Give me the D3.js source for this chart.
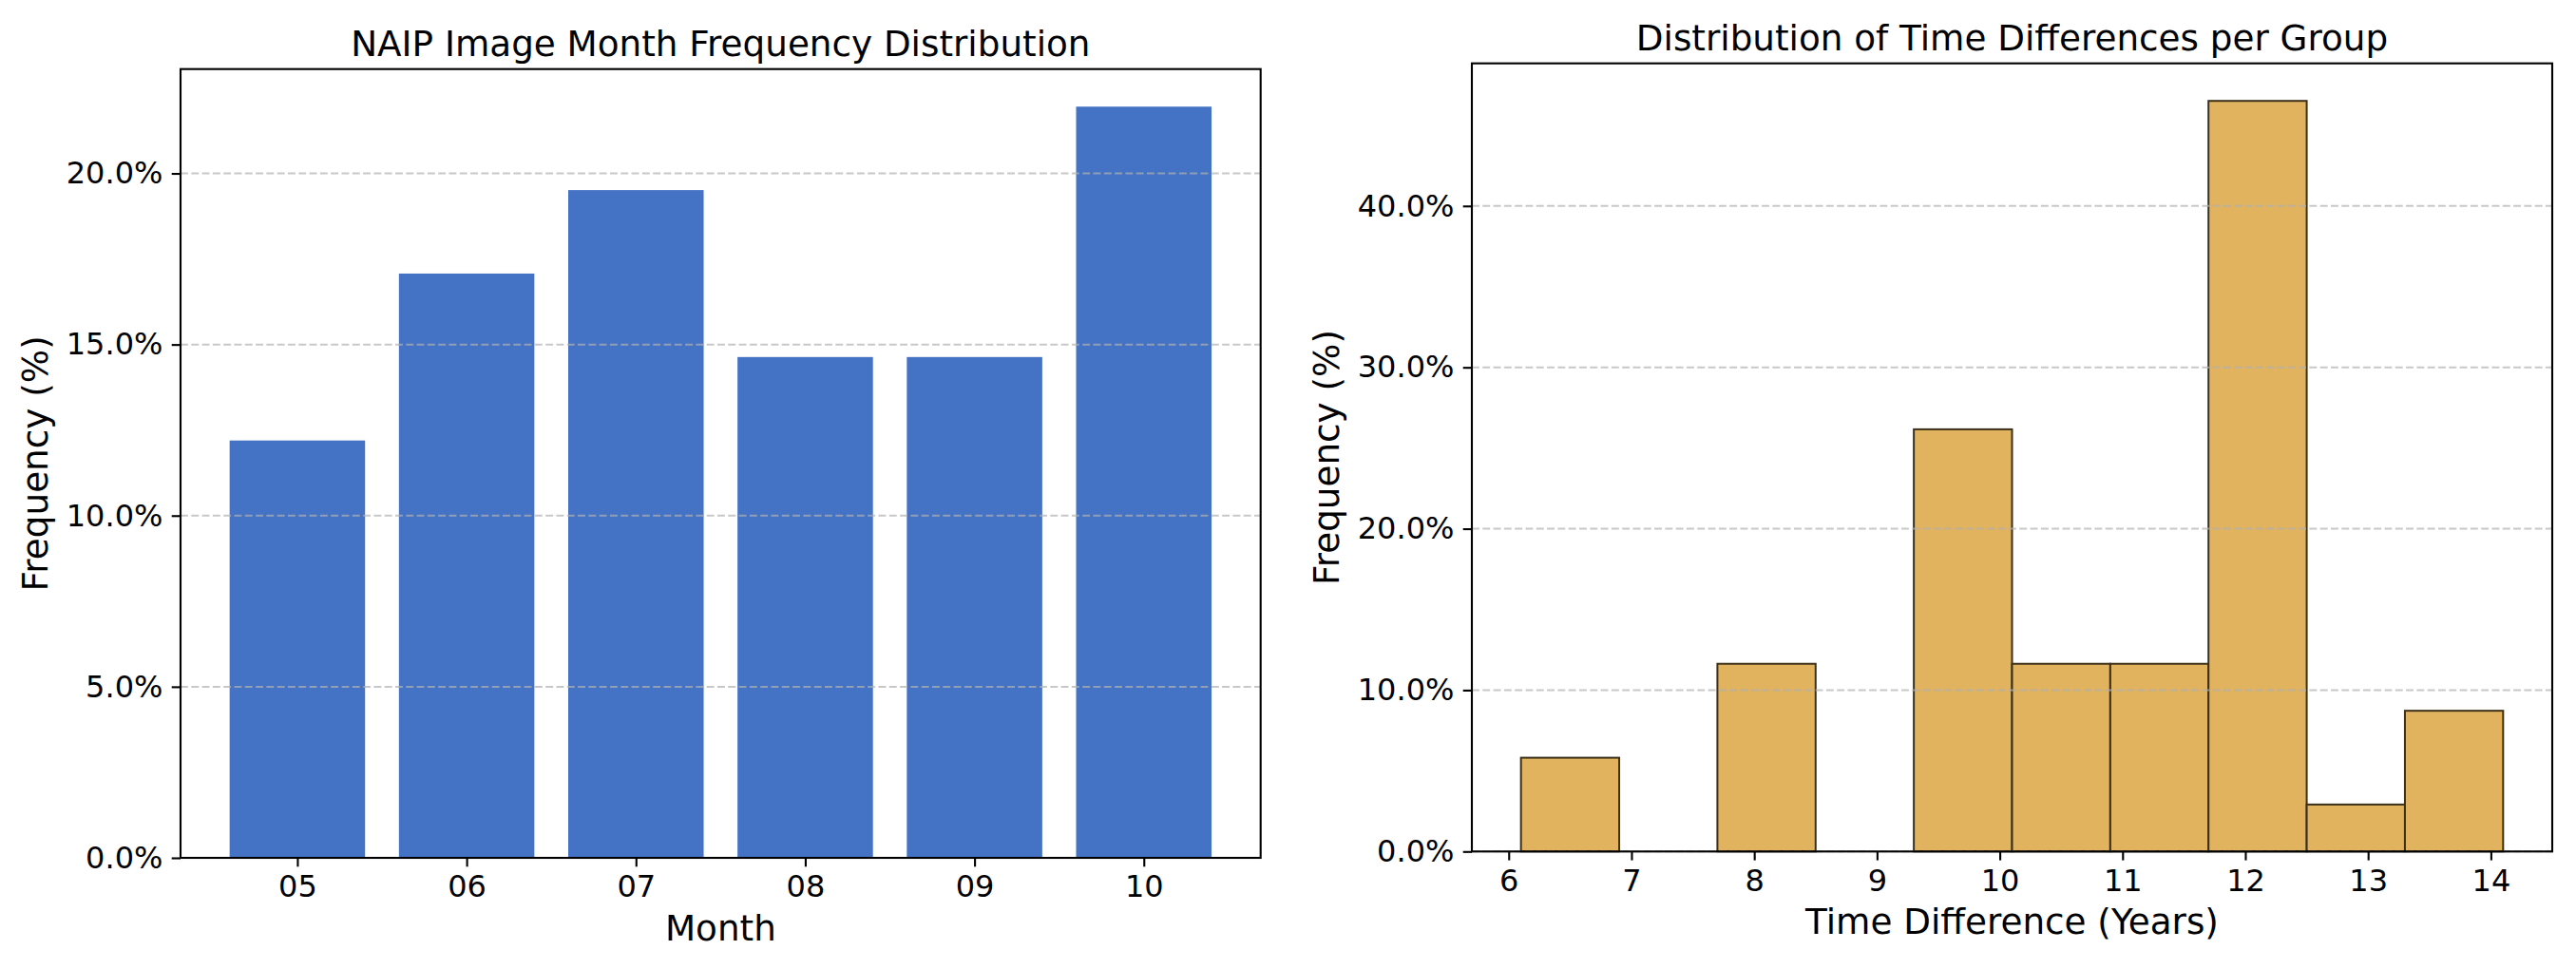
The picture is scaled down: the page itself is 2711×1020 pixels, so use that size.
<!DOCTYPE html>
<html>
<head>
<meta charset="utf-8">
<script src="https://cdn.jsdelivr.net/npm/d3@7"></script>
<style>
  body { margin: 0; background: #fff; }
  svg { display: block; font-family: "DejaVu Sans", sans-serif; }
</style>
</head>
<body>
<svg id="chart" width="2711" height="1020"></svg>
<script>
// left panel: month frequency
const months = ['05', '06', '07', '08', '09', '10']
const monthFreq = [12.195, 17.073, 19.512, 14.634, 14.634, 21.951]

// right panel: histogram of time differences (bin edges + percent per bin)
const binEdges = [6.1, 6.9, 7.7, 8.5, 9.3, 10.1, 10.9, 11.7, 12.5, 13.3, 14.1]
const binFreq = [5.81, 0, 11.63, 0, 26.16, 11.63, 11.63, 46.51, 2.91, 8.72]
const diffTicks = [6, 7, 8, 9, 10, 11, 12, 13, 14]

const svg = d3.select('#chart')
const pct = d => d.toFixed(1) + '%'

function frame(g, x, y, box, yTicks, xTickVals, xTickFmt) {
    // grid
    g.append('g').selectAll('line')
        .data(yTicks)
        .join('line')
        .attr('x1', box.left).attr('x2', box.right)
        .attr('y1', d => y(d)).attr('y2', d => y(d))
        .attr('stroke', '#b0b0b0')
        .attr('stroke-opacity', 0.7)
        .attr('stroke-width', 2)
        .attr('stroke-dasharray', '7.9,3.4')

    const yAxis = g.append('g')
        .attr('transform', `translate(${box.left},0)`)
        .call(d3.axisLeft(y).tickValues(yTicks).tickFormat(pct).tickSize(9.3).tickPadding(9.3))
    const xAxis = g.append('g')
        .attr('transform', `translate(0,${box.bottom})`)
        .call(d3.axisBottom(x).tickValues(xTickVals).tickFormat(xTickFmt).tickSize(9.3).tickPadding(9.3))
    for (const a of [xAxis, yAxis]) {
        a.select('.domain').remove()
        a.selectAll('line').attr('stroke', '#000').attr('stroke-width', 2.1)
        a.selectAll('text').attr('font-size', 32).attr('fill', '#000')
            .attr('font-family', '"DejaVu Sans", sans-serif')
    }

    // spines
    g.append('rect')
        .attr('x', box.left).attr('y', box.top)
        .attr('width', box.right - box.left).attr('height', box.bottom - box.top)
        .attr('fill', 'none').attr('stroke', '#000').attr('stroke-width', 2.1)
}

function labels(g, box, title, xLabel) {
    const cx = (box.left + box.right) / 2
    g.append('text')
        .attr('x', cx).attr('y', box.top - 14)
        .attr('text-anchor', 'middle')
        .attr('font-size', 37.3)
        .text(title)
    g.append('text')
        .attr('x', cx).attr('y', box.bottom + 87)
        .attr('text-anchor', 'middle')
        .attr('font-size', 37.3)
        .text(xLabel)
    g.append('text')
        .attr('transform', `translate(${box.left - 140},${(box.top + box.bottom) / 2}) rotate(-90)`)
        .attr('text-anchor', 'middle')
        .attr('font-size', 37.3)
        .text('Frequency (%)')
}

// ---- left: bar chart
const boxL = { left: 190, right: 1326.7, top: 72.7, bottom: 903 }
const xL = d3.scaleLinear().domain([-0.69, months.length - 1 + 0.69]).range([boxL.left, boxL.right])
const yL = d3.scaleLinear().domain([0, d3.max(monthFreq) * 1.05]).range([boxL.bottom, boxL.top])
const gL = svg.append('g')

gL.append('g').selectAll('rect')
    .data(monthFreq)
    .join('rect')
    .attr('x', (d, i) => xL(i - 0.4))
    .attr('width', (d, i) => xL(i + 0.4) - xL(i - 0.4))
    .attr('y', d => yL(d))
    .attr('height', d => yL(0) - yL(d))
    .attr('fill', '#4472C4')

frame(gL, xL, yL, boxL, [0, 5, 10, 15, 20], d3.range(months.length), i => months[i])
labels(gL, boxL, 'NAIP Image Month Frequency Distribution', 'Month')

// ---- right: histogram
const boxR = { left: 1549, right: 2686, top: 66.7, bottom: 896.3 }
const span = binEdges[binEdges.length - 1] - binEdges[0]
const xR = d3.scaleLinear()
    .domain([binEdges[0] - span * 0.05, binEdges[binEdges.length - 1] + span * 0.05])
    .range([boxR.left, boxR.right])
const yR = d3.scaleLinear().domain([0, d3.max(binFreq) * 1.05]).range([boxR.bottom, boxR.top])
const gR = svg.append('g')

gR.append('g').selectAll('rect')
    .data(binFreq)
    .join('rect')
    .attr('x', (d, i) => xR(binEdges[i]))
    .attr('width', (d, i) => xR(binEdges[i + 1]) - xR(binEdges[i]))
    .attr('y', d => yR(d))
    .attr('height', d => yR(0) - yR(d))
    .attr('fill', '#E1B35F')
    .attr('stroke', '#3d3019')
    .attr('stroke-width', 2)

frame(gR, xR, yR, boxR, [0, 10, 20, 30, 40], diffTicks, d => d)
labels(gR, boxR, 'Distribution of Time Differences per Group', 'Time Difference (Years)')
</script>
</body>
</html>
